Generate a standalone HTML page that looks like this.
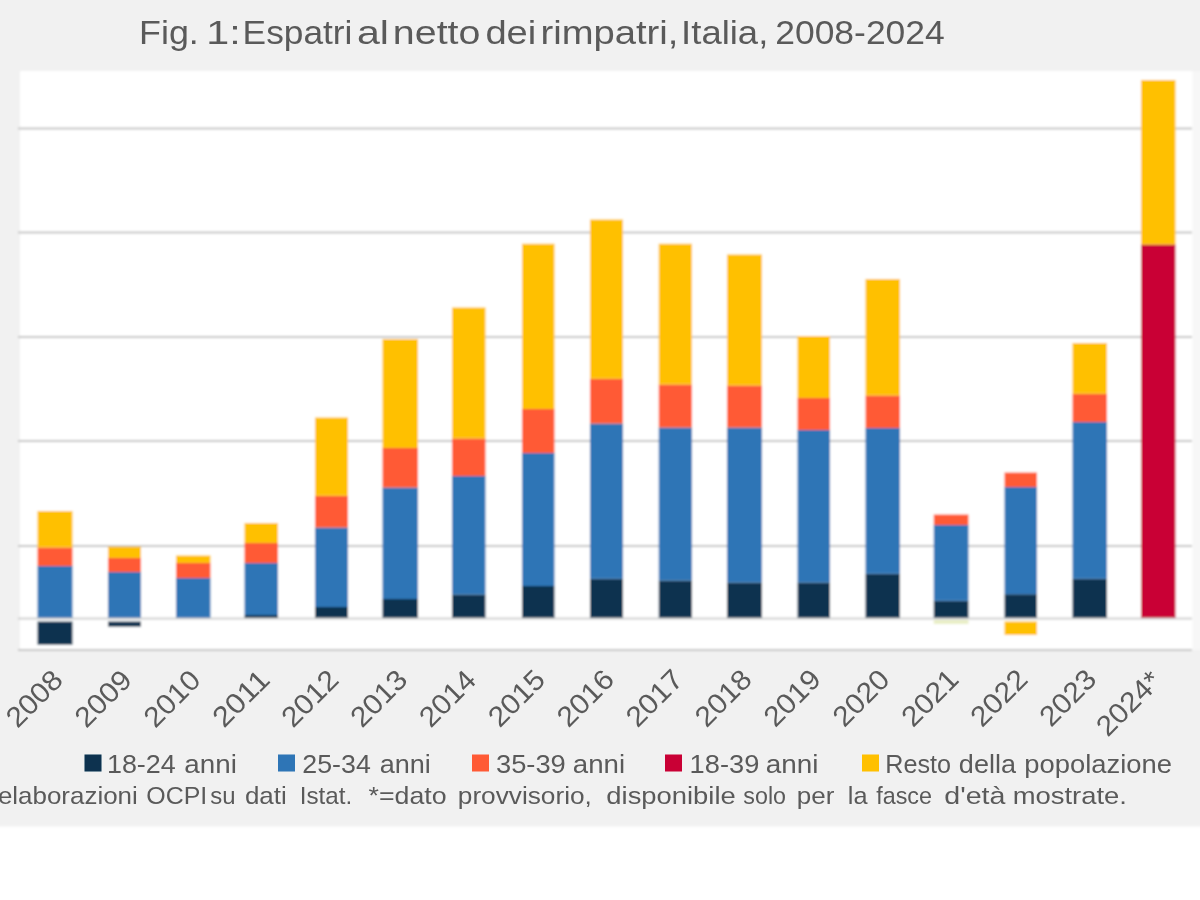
<!DOCTYPE html>
<html lang="it"><head><meta charset="utf-8"><title>Fig. 1: Espatri al netto dei rimpatri, Italia, 2008-2024</title>
<style>html,body{margin:0;padding:0;background:#fff;width:1200px;height:900px;overflow:hidden}svg{display:block}text{font-family:"Liberation Sans",sans-serif;fill:#5a5a5a}</style>
</head><body>
<svg width="1200" height="900" viewBox="0 0 1200 900">
<defs><filter id="b" x="-2%" y="-2%" width="104%" height="104%"><feGaussianBlur stdDeviation="0.8"/></filter><filter id="t" x="-2%" y="-2%" width="104%" height="104%"><feGaussianBlur stdDeviation="0.45"/></filter></defs>
<rect x="0" y="0" width="1200" height="900" fill="#ffffff"/>
<g filter="url(#b)">
<rect x="-5" y="-5" width="1210" height="831.5" fill="#f1f1f1"/>
<rect x="1190" y="71" width="15" height="579" fill="#f7f7f7"/>
<rect x="20" y="71" width="1172.5" height="579" fill="#ffffff"/>
<rect x="18" y="127.5" width="1174" height="2" fill="#c6c6c6"/>
<rect x="18" y="231.5" width="1174" height="2" fill="#c6c6c6"/>
<rect x="18" y="336.0" width="1174" height="2" fill="#c6c6c6"/>
<rect x="18" y="440.0" width="1174" height="2" fill="#c6c6c6"/>
<rect x="18" y="545.0" width="1174" height="2" fill="#c6c6c6"/>
<rect x="18" y="649.0" width="1174" height="2" fill="#c6c6c6"/>
<rect x="37.50" y="621.50" width="35.00" height="23.20" fill="#0b3350"/>
<rect x="37.50" y="566.00" width="35.00" height="52.00" fill="#2e75b6"/>
<rect x="37.50" y="547.50" width="35.00" height="18.50" fill="#ff5a36"/>
<rect x="37.50" y="511.00" width="35.00" height="36.50" fill="#ffc000"/>
<rect x="108.00" y="621.50" width="33.00" height="5.20" fill="#0b3350"/>
<rect x="108.00" y="572.00" width="33.00" height="46.00" fill="#2e75b6"/>
<rect x="108.00" y="558.00" width="33.00" height="14.00" fill="#ff5a36"/>
<rect x="108.00" y="546.70" width="33.00" height="11.30" fill="#ffc000"/>
<rect x="176.00" y="578.00" width="34.50" height="40.00" fill="#2e75b6"/>
<rect x="176.00" y="563.00" width="34.50" height="15.00" fill="#ff5a36"/>
<rect x="176.00" y="555.50" width="34.50" height="7.50" fill="#ffc000"/>
<rect x="244.50" y="615.00" width="33.50" height="3.00" fill="#0b3350"/>
<rect x="244.50" y="563.00" width="33.50" height="52.00" fill="#2e75b6"/>
<rect x="244.50" y="543.00" width="33.50" height="20.00" fill="#ff5a36"/>
<rect x="244.50" y="523.00" width="33.50" height="20.00" fill="#ffc000"/>
<rect x="315.00" y="607.00" width="33.00" height="11.00" fill="#0b3350"/>
<rect x="315.00" y="527.50" width="33.00" height="79.50" fill="#2e75b6"/>
<rect x="315.00" y="495.75" width="33.00" height="31.75" fill="#ff5a36"/>
<rect x="315.00" y="417.50" width="33.00" height="78.25" fill="#ffc000"/>
<rect x="382.50" y="599.00" width="35.50" height="19.00" fill="#0b3350"/>
<rect x="382.50" y="487.50" width="35.50" height="111.50" fill="#2e75b6"/>
<rect x="382.50" y="448.00" width="35.50" height="39.50" fill="#ff5a36"/>
<rect x="382.50" y="339.00" width="35.50" height="109.00" fill="#ffc000"/>
<rect x="452.00" y="594.50" width="33.50" height="23.50" fill="#0b3350"/>
<rect x="452.00" y="476.00" width="33.50" height="118.50" fill="#2e75b6"/>
<rect x="452.00" y="438.50" width="33.50" height="37.50" fill="#ff5a36"/>
<rect x="452.00" y="307.50" width="33.50" height="131.00" fill="#ffc000"/>
<rect x="522.00" y="586.00" width="32.50" height="32.00" fill="#0b3350"/>
<rect x="522.00" y="453.00" width="32.50" height="133.00" fill="#2e75b6"/>
<rect x="522.00" y="409.00" width="32.50" height="44.00" fill="#ff5a36"/>
<rect x="522.00" y="243.75" width="32.50" height="165.25" fill="#ffc000"/>
<rect x="590.00" y="578.75" width="33.00" height="39.25" fill="#0b3350"/>
<rect x="590.00" y="423.50" width="33.00" height="155.25" fill="#2e75b6"/>
<rect x="590.00" y="378.75" width="33.00" height="44.75" fill="#ff5a36"/>
<rect x="590.00" y="219.50" width="33.00" height="159.25" fill="#ffc000"/>
<rect x="658.75" y="580.50" width="33.25" height="37.50" fill="#0b3350"/>
<rect x="658.75" y="427.50" width="33.25" height="153.00" fill="#2e75b6"/>
<rect x="658.75" y="384.50" width="33.25" height="43.00" fill="#ff5a36"/>
<rect x="658.75" y="243.75" width="33.25" height="140.75" fill="#ffc000"/>
<rect x="727.00" y="582.50" width="35.00" height="35.50" fill="#0b3350"/>
<rect x="727.00" y="427.50" width="35.00" height="155.00" fill="#2e75b6"/>
<rect x="727.00" y="385.50" width="35.00" height="42.00" fill="#ff5a36"/>
<rect x="727.00" y="254.50" width="35.00" height="131.00" fill="#ffc000"/>
<rect x="797.50" y="582.50" width="32.50" height="35.50" fill="#0b3350"/>
<rect x="797.50" y="430.00" width="32.50" height="152.50" fill="#2e75b6"/>
<rect x="797.50" y="398.00" width="32.50" height="32.00" fill="#ff5a36"/>
<rect x="797.50" y="336.00" width="32.50" height="62.00" fill="#ffc000"/>
<rect x="865.50" y="573.75" width="34.50" height="44.25" fill="#0b3350"/>
<rect x="865.50" y="428.00" width="34.50" height="145.75" fill="#2e75b6"/>
<rect x="865.50" y="395.50" width="34.50" height="32.50" fill="#ff5a36"/>
<rect x="865.50" y="279.00" width="34.50" height="116.50" fill="#ffc000"/>
<rect x="933.75" y="600.75" width="34.75" height="17.25" fill="#0b3350"/>
<rect x="933.75" y="525.00" width="34.75" height="75.75" fill="#2e75b6"/>
<rect x="933.75" y="514.50" width="34.75" height="10.50" fill="#ff5a36"/>
<rect x="933.75" y="620.00" width="34.75" height="4.00" fill="#e9efc6"/>
<rect x="1004.50" y="594.25" width="32.50" height="23.75" fill="#0b3350"/>
<rect x="1004.50" y="487.00" width="32.50" height="107.25" fill="#2e75b6"/>
<rect x="1004.50" y="472.50" width="32.50" height="14.50" fill="#ff5a36"/>
<rect x="1004.50" y="621.50" width="32.50" height="13.50" fill="#ffc000"/>
<rect x="1072.50" y="578.75" width="34.50" height="39.25" fill="#0b3350"/>
<rect x="1072.50" y="422.00" width="34.50" height="156.75" fill="#2e75b6"/>
<rect x="1072.50" y="393.75" width="34.50" height="28.25" fill="#ff5a36"/>
<rect x="1072.50" y="343.00" width="34.50" height="50.75" fill="#ffc000"/>
<rect x="1141.00" y="244.50" width="34.50" height="373.50" fill="#c90035"/>
<rect x="1141.00" y="80.00" width="34.50" height="164.50" fill="#ffc000"/>
<rect x="18" y="617.6" width="1174" height="1.9" fill="#cdcdcd"/>
</g>
<g filter="url(#t)">
<text x="139.06" y="44.00" font-size="34.00" textLength="59.71" lengthAdjust="spacingAndGlyphs">Fig.</text>
<text x="206.36" y="44.00" font-size="34.00" textLength="34.41" lengthAdjust="spacingAndGlyphs">1:</text>
<text x="242.61" y="44.00" font-size="34.00" textLength="109.77" lengthAdjust="spacingAndGlyphs">Espatri</text>
<text x="357.00" y="44.00" font-size="34.00" textLength="32.00" lengthAdjust="spacingAndGlyphs">al</text>
<text x="392.89" y="44.00" font-size="34.00" textLength="87.52" lengthAdjust="spacingAndGlyphs">netto</text>
<text x="485.40" y="44.00" font-size="34.00" textLength="50.92" lengthAdjust="spacingAndGlyphs">dei</text>
<text x="540.46" y="44.00" font-size="34.00" textLength="137.97" lengthAdjust="spacingAndGlyphs">rimpatri,</text>
<text x="681.14" y="44.00" font-size="34.00" textLength="87.14" lengthAdjust="spacingAndGlyphs">Italia,</text>
<text x="775.22" y="44.00" font-size="34.00" textLength="169.57" lengthAdjust="spacingAndGlyphs">2008-2024</text>
<text transform="translate(63.70,682.70) rotate(-45)" x="-65.51" y="0" font-size="28.30" textLength="66.82" lengthAdjust="spacingAndGlyphs">2008</text>
<text transform="translate(132.60,682.64) rotate(-45)" x="-65.51" y="0" font-size="28.30" textLength="66.94" lengthAdjust="spacingAndGlyphs">2009</text>
<text transform="translate(201.50,682.58) rotate(-45)" x="-65.51" y="0" font-size="28.30" textLength="66.68" lengthAdjust="spacingAndGlyphs">2010</text>
<text transform="translate(270.40,682.52) rotate(-45)" x="-65.51" y="0" font-size="28.30" textLength="66.98" lengthAdjust="spacingAndGlyphs">2011</text>
<text transform="translate(339.30,682.46) rotate(-45)" x="-65.52" y="0" font-size="28.30" textLength="67.03" lengthAdjust="spacingAndGlyphs">2012</text>
<text transform="translate(408.20,682.40) rotate(-45)" x="-65.51" y="0" font-size="28.30" textLength="66.83" lengthAdjust="spacingAndGlyphs">2013</text>
<text transform="translate(477.10,682.34) rotate(-45)" x="-65.50" y="0" font-size="28.30" textLength="66.37" lengthAdjust="spacingAndGlyphs">2014</text>
<text transform="translate(546.00,682.28) rotate(-45)" x="-65.51" y="0" font-size="28.30" textLength="66.77" lengthAdjust="spacingAndGlyphs">2015</text>
<text transform="translate(614.90,682.22) rotate(-45)" x="-65.51" y="0" font-size="28.30" textLength="66.83" lengthAdjust="spacingAndGlyphs">2016</text>
<text transform="translate(683.80,682.16) rotate(-45)" x="-65.52" y="0" font-size="28.30" textLength="67.03" lengthAdjust="spacingAndGlyphs">2017</text>
<text transform="translate(752.70,682.10) rotate(-45)" x="-65.51" y="0" font-size="28.30" textLength="66.82" lengthAdjust="spacingAndGlyphs">2018</text>
<text transform="translate(821.60,682.04) rotate(-45)" x="-65.51" y="0" font-size="28.30" textLength="66.94" lengthAdjust="spacingAndGlyphs">2019</text>
<text transform="translate(890.50,681.98) rotate(-45)" x="-65.51" y="0" font-size="28.30" textLength="66.68" lengthAdjust="spacingAndGlyphs">2020</text>
<text transform="translate(959.40,681.92) rotate(-45)" x="-65.51" y="0" font-size="28.30" textLength="66.98" lengthAdjust="spacingAndGlyphs">2021</text>
<text transform="translate(1028.30,681.86) rotate(-45)" x="-65.52" y="0" font-size="28.30" textLength="67.03" lengthAdjust="spacingAndGlyphs">2022</text>
<text transform="translate(1097.20,681.80) rotate(-45)" x="-65.51" y="0" font-size="28.30" textLength="66.83" lengthAdjust="spacingAndGlyphs">2023</text>
<text transform="translate(1163.70,681.74) rotate(-45)" x="-79.11" y="0" font-size="28.30" textLength="77.99" lengthAdjust="spacingAndGlyphs">2024*</text>
<rect x="84.5" y="754.5" width="17" height="17" fill="#0b3350"/>
<text x="106.95" y="772.50" font-size="26.20" textLength="68.84" lengthAdjust="spacingAndGlyphs">18-24</text>
<text x="184.32" y="772.50" font-size="26.20" textLength="52.55" lengthAdjust="spacingAndGlyphs">anni</text>
<rect x="278.0" y="754.5" width="17" height="17" fill="#2e75b6"/>
<text x="302.35" y="772.50" font-size="26.20" textLength="68.43" lengthAdjust="spacingAndGlyphs">25-34</text>
<text x="379.65" y="772.50" font-size="26.20" textLength="51.17" lengthAdjust="spacingAndGlyphs">anni</text>
<rect x="472.0" y="754.5" width="17" height="17" fill="#ff5a36"/>
<text x="495.96" y="772.50" font-size="26.20" textLength="69.83" lengthAdjust="spacingAndGlyphs">35-39</text>
<text x="572.82" y="772.50" font-size="26.20" textLength="52.34" lengthAdjust="spacingAndGlyphs">anni</text>
<rect x="665.0" y="754.5" width="17" height="17" fill="#c90035"/>
<text x="689.63" y="772.50" font-size="26.20" textLength="69.66" lengthAdjust="spacingAndGlyphs">18-39</text>
<text x="765.81" y="772.50" font-size="26.20" textLength="52.77" lengthAdjust="spacingAndGlyphs">anni</text>
<rect x="862.0" y="754.5" width="17" height="17" fill="#ffc000"/>
<text x="885.23" y="772.50" font-size="26.20" textLength="65.83" lengthAdjust="spacingAndGlyphs">Resto</text>
<text x="958.86" y="772.50" font-size="26.20" textLength="57.14" lengthAdjust="spacingAndGlyphs">della</text>
<text x="1024.24" y="772.50" font-size="26.20" textLength="147.68" lengthAdjust="spacingAndGlyphs">popolazione</text>
<text x="-2.10" y="803.75" font-size="24.40" textLength="139.85" lengthAdjust="spacingAndGlyphs">elaborazioni</text>
<text x="146.32" y="803.75" font-size="24.40" textLength="60.98" lengthAdjust="spacingAndGlyphs">OCPI</text>
<text x="210.33" y="803.75" font-size="24.40" textLength="25.25" lengthAdjust="spacingAndGlyphs">su</text>
<text x="244.91" y="803.75" font-size="24.40" textLength="41.84" lengthAdjust="spacingAndGlyphs">dati</text>
<text x="299.77" y="803.75" font-size="24.40" textLength="52.44" lengthAdjust="spacingAndGlyphs">Istat.</text>
<text x="368.57" y="803.75" font-size="24.40" textLength="78.05" lengthAdjust="spacingAndGlyphs">*=dato</text>
<text x="457.81" y="803.75" font-size="24.40" textLength="134.05" lengthAdjust="spacingAndGlyphs">provvisorio,</text>
<text x="606.35" y="803.75" font-size="24.40" textLength="129.37" lengthAdjust="spacingAndGlyphs">disponibile</text>
<text x="743.35" y="803.75" font-size="24.40" textLength="42.62" lengthAdjust="spacingAndGlyphs">solo</text>
<text x="796.82" y="803.75" font-size="24.40" textLength="37.61" lengthAdjust="spacingAndGlyphs">per</text>
<text x="847.79" y="803.75" font-size="24.40" textLength="19.71" lengthAdjust="spacingAndGlyphs">la</text>
<text x="876.17" y="803.75" font-size="24.40" textLength="55.87" lengthAdjust="spacingAndGlyphs">fasce</text>
<text x="944.30" y="803.75" font-size="24.40" textLength="61.20" lengthAdjust="spacingAndGlyphs">d'età</text>
<text x="1012.68" y="803.75" font-size="24.40" textLength="114.33" lengthAdjust="spacingAndGlyphs">mostrate.</text>
</g>
</svg>
</body></html>
